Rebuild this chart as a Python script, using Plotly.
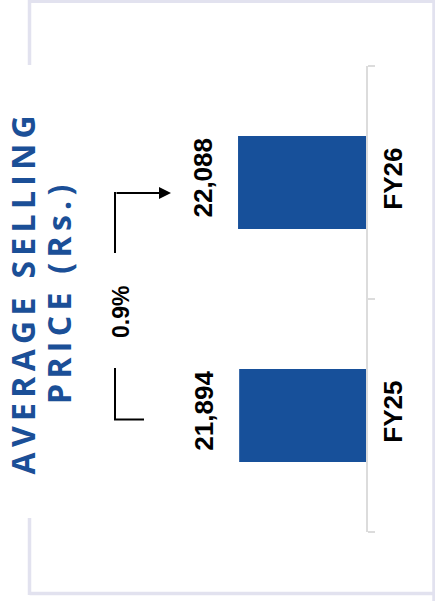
import plotly.graph_objects as go

# Average selling price per fiscal year (Rs.)
categories = ["FY25", "FY26"]
values = [21894, 22088]
value_labels = ["21,894", "22,088"]
growth_label = "0.9%"
title_lines = ["AVERAGE SELLING", "PRICE (Rs.)"]

BLUE = "#17509a"
TITLE_BLUE = "#1b4f97"
FRAME = "#e2e2ef"
AXIS = "#dcdcdc"

W_PX, H_PX = 435, 601
M_L, M_R, M_T, M_B = 30, 69, 66, 69
PW = W_PX - M_L - M_R
PH = H_PX - M_T - M_B


def px(x):
    return (x - M_L) / PW


def py(y):
    return 1 - (y - M_T) / PH


fig = go.Figure()
fig.add_trace(go.Bar(
    y=categories,
    x=values,
    orientation="h",
    marker=dict(color=BLUE, line=dict(width=0)),
    hoverinfo="skip",
))

label_font = dict(family="Arial, Liberation Sans, sans-serif", size=26, color="black", weight="bold")

# value labels beside each bar
annotations = []
for cat, val, lab in zip(categories, values, value_labels):
    annotations.append(dict(
        x=val, y=cat, xref="x", yref="y", text=lab, textangle=-90,
        showarrow=False, xanchor="center", yanchor="middle",
        xshift=-36, yshift=5, font=label_font,
    ))

# growth label
annotations.append(dict(
    x=px(121), y=py(312), xref="paper", yref="paper", text=growth_label,
    textangle=-90, showarrow=False, xanchor="center", yanchor="middle",
    font=dict(family="Arial, Liberation Sans, sans-serif", size=23, color="black", weight="bold"),
))

# arrow head pointing toward the FY26 label
annotations.append(dict(
    x=px(171), y=py(193), xref="paper", yref="paper", text="",
    showarrow=True, ax=-56, ay=0, axref="pixel", ayref="pixel",
    arrowhead=2, arrowsize=1.2, arrowwidth=2, arrowcolor="black",
))

# rotated, letter-spaced title
title_font = dict(family="Open Sans, sans-serif", size=32, color=TITLE_BLUE, weight="bold")
for line, cx in zip(title_lines, [21.5, 58]):
    annotations.append(dict(
        x=px(cx), y=py(295), xref="paper", yref="paper",
        text="\u2009".join(line), textangle=-90, showarrow=False,
        xanchor="center", yanchor="middle", font=title_font,
    ))

shapes = []
line_k = dict(color="black", width=2)
# bracket lines of the growth arrow
shapes.append(dict(type="line", xref="paper", yref="paper",
                   x0=px(115), y0=py(253), x1=px(115), y1=py(192), line=line_k))
shapes.append(dict(type="line", xref="paper", yref="paper",
                   x0=px(115), y0=py(368), x1=px(115), y1=py(419.5), line=line_k))
shapes.append(dict(type="line", xref="paper", yref="paper",
                   x0=px(114), y0=py(419.5), x1=px(144), y1=py(419.5), line=line_k))

# outer frame (left edge broken around the title)
frame = dict(color=FRAME, width=3.5)
for x0, y0, x1, y1 in [
    (29.5, 1.2, 435, 1.2),
    (434, 0, 434, 601),
    (29.5, 593.5, 435, 593.5),
    (29.5, 0, 29.5, 65),
    (29.5, 518, 29.5, 595),
]:
    shapes.append(dict(type="line", xref="paper", yref="paper",
                       x0=px(x0), y0=py(y0), x1=px(x1), y1=py(y1), line=frame))

fig.update_layout(
    width=W_PX, height=H_PX,
    margin=dict(l=M_L, r=M_R, t=M_T, b=M_B),
    paper_bgcolor="white", plot_bgcolor="white",
    showlegend=False,
    bargap=0.6,
    xaxis=dict(range=[58000, 0], visible=False, fixedrange=True),
    yaxis=dict(
        side="right", type="category", range=[-0.5, 1.5],
        showline=True, linecolor=AXIS, linewidth=2,
        ticks="outside", tickson="boundaries", ticklen=7,
        tickcolor=AXIS, tickwidth=2,
        tickangle=-90, tickfont=label_font, ticklabelstandoff=3,
        showgrid=False, zeroline=False, fixedrange=True,
    ),
    annotations=annotations,
    shapes=shapes,
)

fig.write_html("out.html")
